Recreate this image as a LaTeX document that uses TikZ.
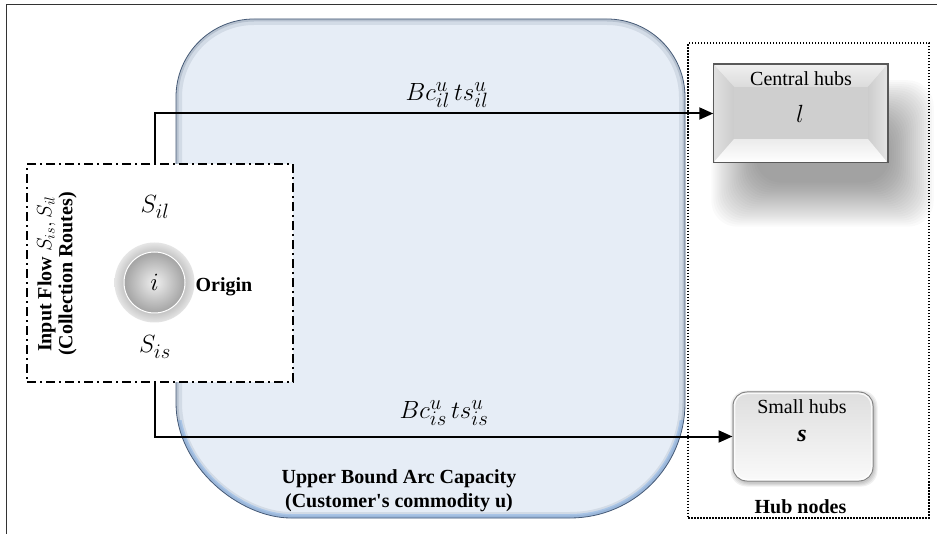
\documentclass[tikz,border=0pt]{standalone}
\usepackage{fontspec}
\setmainfont{Liberation Serif}
\usetikzlibrary{calc,arrows.meta,backgrounds}
\definecolor{capfill}{RGB}{230,237,246}
\definecolor{capedge}{RGB}{70,90,118}
\definecolor{capglow}{RGB}{120,170,230}
\begin{document}
\begin{tikzpicture}[x=1pt,y=-1pt,
  lbl/.style={font=\fontsize{20}{24}\selectfont\bfseries, align=center, inner sep=0pt},
  plainlbl/.style={font=\fontsize{20}{24}\selectfont, inner sep=0pt},
  mathlbl/.style={font=\fontsize{28}{30}\selectfont, inner sep=0pt},
  arr/.style={line width=2pt, -{Triangle[length=14pt,width=12pt]}},
  inboxstyle/.style={draw, fill=white, line width=2pt, dash pattern=on 9pt off 4pt on 2pt off 4pt, inner sep=0pt},
  hubboxstyle/.style={draw, line width=2pt, dash pattern=on 1.5pt off 1.5pt, inner sep=0pt}]
\useasboundingbox (0,0) rectangle (937,534);
% outer frame (left and top only visible)
\draw[line width=1pt, black!80] (6,534) -- (6,5) -- (937,5);
% big capacity region
\def\cappath{(176,97) .. controls (176,53.9) and (210.9,19) .. (254,19) -- (607,19) .. controls (650.1,19) and (685,53.9) .. (685,97) -- (685,403) .. controls (685,466.5) and (633.5,518) .. (570,518) -- (291,518) .. controls (239.5,518) and (176,466.5) .. (176,403) -- cycle}
\fill[capfill] \cappath;
\begin{scope}
  \clip \cappath;
  \draw[line width=12pt, capedge, opacity=0.12] \cappath;
  \draw[line width=5pt, capedge, opacity=0.2] \cappath;
  \begin{scope}
    \clip (150,420) rectangle (700,530);
    \draw[line width=8pt, capglow, opacity=0.45] \cappath;
  \end{scope}
\end{scope}
\draw[line width=0.8pt, capedge] \cappath;
% hub nodes box
\node[hubboxstyle, minimum width=241pt, minimum height=474pt] (hubbox) at (808.5,280.5) {};
\node[lbl] (hublbl) at (800.5,507) {Hub nodes};
% central hubs bevel box
\node[draw=black!65, fill=black!18, line width=1.5pt, minimum width=173pt, minimum height=97pt, inner sep=0pt] (central) at (800.5,113.5) {};
\begin{scope}[on background layer]
  \foreach \d in {-20,-18,...,24} {
    \fill[black, opacity=0.019, rounded corners=26pt]
      ($(central.north west)+(22-\d,40-\d)$) rectangle ($(central.south east)+(22+\d,40+\d)$);
  }
\end{scope}
\coordinate (cnw) at ($(central.north west)+(21,23)$);
\coordinate (cne) at ($(central.north east)+(-20,23)$);
\coordinate (csw) at ($(central.south west)+(21,-24)$);
\coordinate (cse) at ($(central.south east)+(-20,-24)$);
\shade[top color=black!6, bottom color=black!14] (central.north west) -- (central.north east) -- (cne) -- (cnw) -- cycle;
\shade[left color=black!12, right color=black!20] (central.north west) -- (cnw) -- (csw) -- (central.south west) -- cycle;
\shade[left color=black!20, right color=black!10] (central.north east) -- (cne) -- (cse) -- (central.south east) -- cycle;
\shade[top color=black!8, bottom color=white] (central.south west) -- (csw) -- (cse) -- (central.south east) -- cycle;
\fill[black!19] (cnw) rectangle (cse);
\draw[black!65, line width=1.5pt] (central.north west) rectangle (central.south east);
\node[plainlbl] (centtxt) at (801,79) {Central hubs};
\node[mathlbl] (centl) at (800,114) {$l$};
% small hubs box
\node[draw=black!50, line width=1pt, rounded corners=14pt, top color=black!13, bottom color=black!2, minimum width=140pt, minimum height=89pt, inner sep=0pt] (small) at (803,436.5) {};
\begin{scope}[on background layer]
  \foreach \d in {0,1,2,3} {
    \fill[black, opacity=0.06, rounded corners=16pt]
      ($(small.north west)+(1-\d,2-\d)$) rectangle ($(small.south east)+(1+\d,2+\d)$);
  }
\end{scope}
\draw[white, line width=1.5pt, rounded corners=12pt, opacity=0.8] ($(small.north west)+(2,2)$) rectangle ($(small.south east)+(-2,-2)$);
\node[plainlbl] (smalltxt) at (802,407) {Small hubs};
\node[font=\fontsize{24}{26}\selectfont\bfseries\itshape, inner sep=0pt] (smalls) at (802,436) {s};
% input flow box
\node[inboxstyle, minimum width=266pt, minimum height=218pt] (inbox) at (160,273.5) {};
\node[lbl, font=\fontsize{20}{21}\selectfont\bfseries, rotate=90] (inflow) at (57,274) {Input Flow $S_{is}, S_{il}$\\(Collection Routes)};
% origin circle
\shade[inner color=black!65, outer color=black!10] (154.5,282.5) circle (40);
\node[circle, minimum size=61pt, inner sep=0pt, inner color=black!6, outer color=black!36, draw=white, line width=1pt] (orig) at (154.5,282.5) {};
\node[mathlbl] (origi) at (orig) {$i$};
\node[lbl] (origtxt) at (224,287) {Origin};
\node[mathlbl, font=\fontsize{30}{32}\selectfont] (sil) at (155,207) {$S_{il}$};
\node[mathlbl, font=\fontsize{30}{32}\selectfont] (sis) at (155,347) {$S_{is}$};
% arrows
\draw[arr] (orig.center |- inbox.north) |- (central.west);
\draw[arr] (orig.center |- inbox.south) |- (small.west);
\node[mathlbl] (bil) at (447,95) {$Bc_{il}^{u}\,ts_{il}^{u}$};
\node[mathlbl] (bis) at (444,413) {$Bc_{is}^{u}\,ts_{is}^{u}$};
% capacity label
\node[lbl] (ub) at (399,491) {Upper Bound Arc Capacity\\(Customer\textquotesingle s commodity u)};
\end{tikzpicture}
\end{document}
